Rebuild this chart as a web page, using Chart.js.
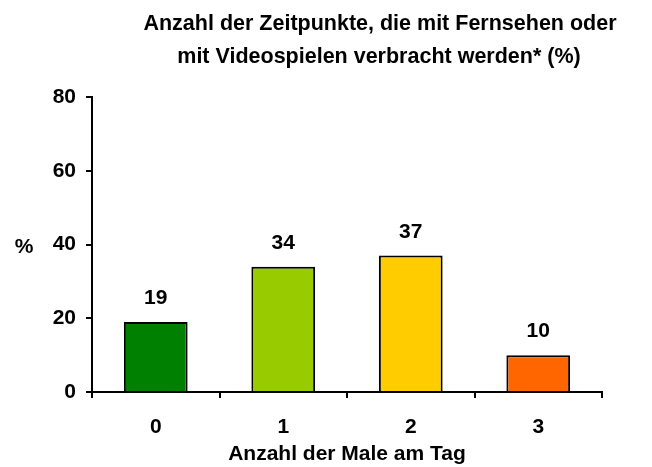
<!DOCTYPE html>
<html lang="de">
<head>
<meta charset="UTF-8">
<title>Anzahl der Zeitpunkte</title>
<style>
    body { margin: 0; background: #fff; }
    #wrap { width: 652px; height: 467px; }
</style>
</head>
<body>
<div id="wrap"><canvas id="chart" width="652" height="467"></canvas></div>
<script src="https://cdn.jsdelivr.net/npm/chart.js"></script>
<script>
    // Daten
    const categories = ['0', '1', '2', '3'];
    const values = [19, 34, 37, 10];
    const barColors = ['#008000', '#99CC00', '#FFCC00', '#FF6600'];
    const yTicks = [0, 20, 40, 60, 80];
    const titleLines = ['Anzahl der Zeitpunkte, die mit Fernsehen oder', 'mit Videospielen verbracht werden* (%)'];
    const xTitle = 'Anzahl der Male am Tag';
    const yTitle = '%';

    const FONT = '"Liberation Sans", Arial, sans-serif';

    // Titel, "%" und Werte über den Balken
    const extras = {
        id: 'extras',
        afterDraw(chart) {
            const c = chart.ctx;
            c.save();
            c.fillStyle = '#000';
            c.textAlign = 'center';
            c.textBaseline = 'alphabetic';
            c.font = 'bold 21.5px ' + FONT;
            c.fillText(titleLines[0], 380, 30);
            c.fillText(titleLines[1], 379, 63);
            c.font = 'bold 21px ' + FONT;
            c.fillText(yTitle, 24, 253);
            const meta = chart.getDatasetMeta(0);
            meta.data.forEach((bar, i) => {
                c.fillText(values[i], bar.x, bar.y - 18);
            });
            c.restore();
        }
    };

    new Chart(document.getElementById('chart'), {
        type: 'bar',
        data: {
            labels: categories,
            datasets: [{
                data: values,
                backgroundColor: barColors,
                borderColor: '#000',
                borderWidth: 2,
                borderSkipped: 'bottom',
                barPercentage: 1,
                categoryPercentage: 0.5
            }]
        },
        options: {
            responsive: false,
            animation: false,
            layout: { padding: { top: 97, right: 50, left: 0, bottom: 0 } },
            plugins: {
                legend: { display: false },
                tooltip: { enabled: false }
            },
            scales: {
                x: {
                    grid: { display: true, drawOnChartArea: false, color: '#000', lineWidth: 2, tickLength: 6, offset: true },
                    border: { color: '#000', width: 2 },
                    ticks: { color: '#000', font: { family: FONT, size: 21, weight: 'bold' }, padding: 17 },
                    title: { display: true, text: xTitle, color: '#000', font: { family: FONT, size: 21, weight: 'bold' }, padding: { top: 0, bottom: 0 } },
                    afterFit(scale) { scale.height = 75; }
                },
                y: {
                    min: 0,
                    max: 80,
                    afterBuildTicks(scale) { scale.ticks = yTicks.map(v => ({ value: v })); },
                    grid: { display: true, drawOnChartArea: false, color: '#000', lineWidth: 2, tickLength: 6 },
                    border: { color: '#000', width: 2 },
                    ticks: { color: '#000', font: { family: FONT, size: 21, weight: 'bold' }, padding: 10 },
                    afterFit(scale) { scale.width = 92; }
                }
            }
        },
        plugins: [extras]
    });
</script>
</body>
</html>
